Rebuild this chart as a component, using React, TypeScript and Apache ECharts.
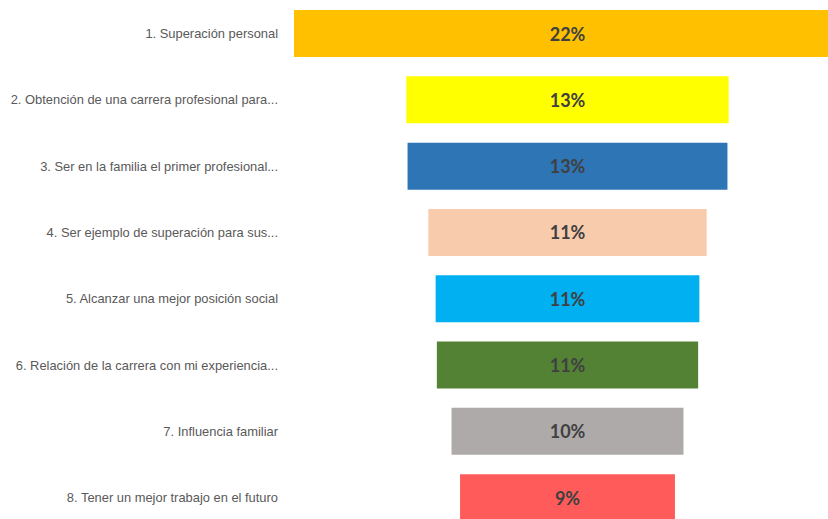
import React, { useEffect, useRef } from "react";
import * as echarts from "echarts";

const categories = [
  "1. Superación personal",
  "2. Obtención de una carrera profesional para...",
  "3. Ser en la familia el primer profesional...",
  "4. Ser ejemplo de superación para sus...",
  "5. Alcanzar una mejor posición social",
  "6. Relación de la carrera con mi experiencia...",
  "7. Influencia familiar",
  "8. Tener un mejor trabajo en el futuro",
];
const values = [22.4, 13.2, 13.1, 11.4, 10.8, 10.7, 9.5, 8.8];
const colors = ["#FFC000", "#FFFF00", "#2E75B6", "#F8CBAD", "#00B0F0", "#548235", "#AEAAAA", "#FF5B5B"];

export default function App() {
  const ref = useRef<HTMLDivElement>(null);
  useEffect(() => {
    if (!ref.current) return;
    const chart = echarts.init(ref.current, undefined, { renderer: "svg" });
    const maxV = Math.max(...values);
    chart.setOption({
      animation: false,
      grid: { left: 294, top: 0.4, width: 547, height: 530.4 },
      xAxis: { type: "value", min: 0, max: maxV, show: false, splitLine: { show: false } },
      yAxis: {
        type: "category",
        data: categories,
        inverse: true,
        axisLine: { show: false },
        axisTick: { show: false },
        axisLabel: { margin: 16, fontSize: 12.9, color: "#595959", fontFamily: "Liberation Sans, Arial, sans-serif" },
      },
      series: [
        {
          type: "bar",
          stack: "f",
          barWidth: 47,
          silent: true,
          itemStyle: { color: "transparent" },
          data: values.map((v) => (maxV - v) / 2),
        },
        {
          type: "bar",
          stack: "f",
          barWidth: 47,
          data: values.map((v, i) => ({ value: v, itemStyle: { color: colors[i] } })),
          label: {
            show: true,
            position: "inside",
            formatter: (p: any) => Math.round(p.value) + "%",
            fontFamily: "Lato, Open Sans, sans-serif",
            fontWeight: "bold",
            fontSize: 18,
            color: "#404040",
          },
        },
      ],
    });
    return () => chart.dispose();
  }, []);
  return (
    <div style={{ position: "fixed", left: 0, top: 0, width: 828, height: 519, overflow: "hidden", background: "#fff" }}>
      <div ref={ref} style={{ width: 841, height: 531 }} />
    </div>
  );
}
